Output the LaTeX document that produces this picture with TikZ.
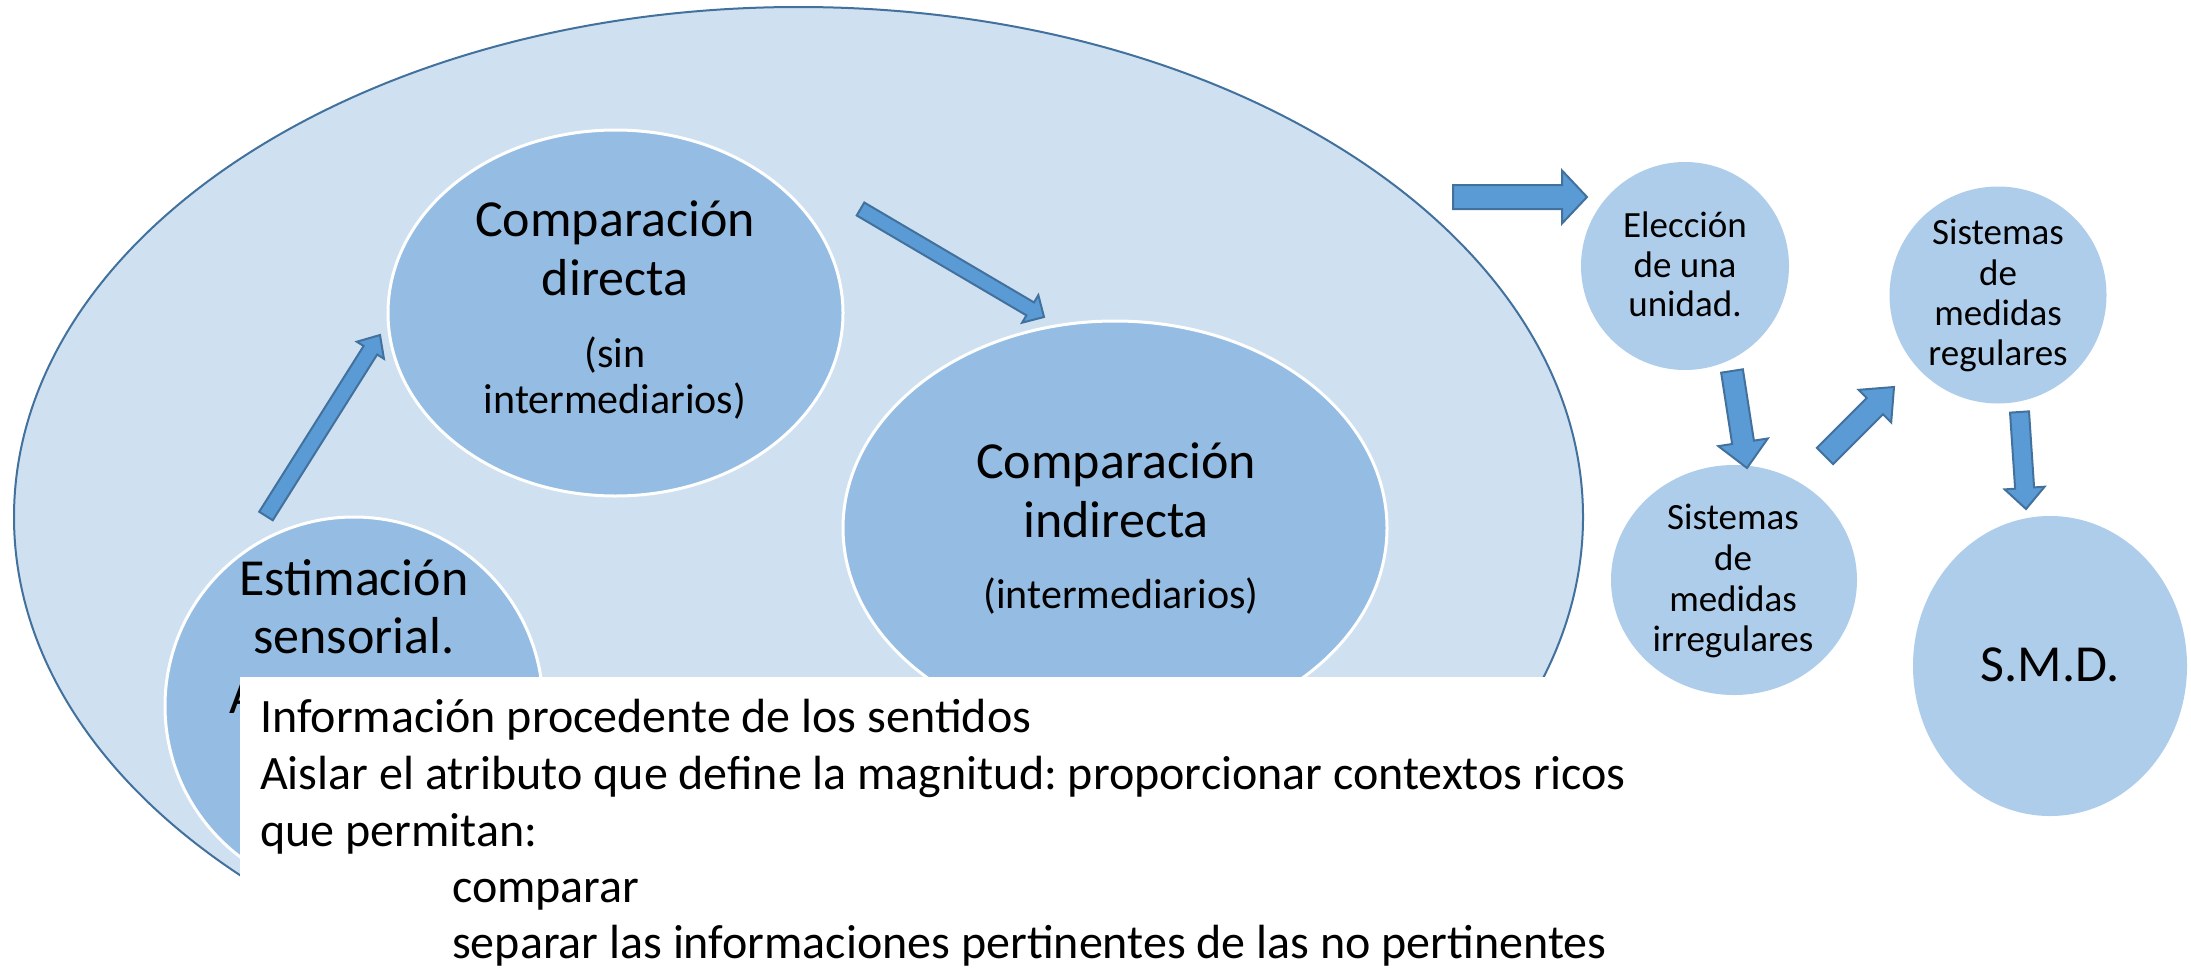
\documentclass[tikz,border=0pt]{standalone}
\usepackage{fontspec}
\setmainfont{Carlito}
\usetikzlibrary{shapes.geometric,calc}
\definecolor{outerfill}{RGB}{207,224,241}
\definecolor{outerline}{RGB}{65,113,156}
\definecolor{innerfill}{RGB}{149,189,227}
\definecolor{rightfill}{RGB}{174,205,235}
\definecolor{arrowfill}{RGB}{91,155,213}
\frenchspacing
\tikzset{
 outerell/.style={ellipse, fill=outerfill, draw=outerline, line width=2pt, inner sep=0pt},
 innerell/.style={ellipse, fill=innerfill, draw=white, line width=3pt, inner sep=0pt},
 rightell/.style={ellipse, fill=rightfill, inner sep=0pt},
 blockarr/.style={fill=arrowfill, draw=outerline, line width=2pt, line join=miter},
 lbl/.style={anchor=base, inner sep=0pt, text=black},
 bigf/.style={font=\fontsize{52}{59}\selectfont},
 midf/.style={font=\fontsize{42}{46}\selectfont},
 smallf/.style={font=\fontsize{37}{40}\selectfont},
 boxtxt/.style={anchor=base west, inner sep=0pt, text=black, font=\fontsize{48}{57}\selectfont},
}
\newcommand{\blockarw}[6]{%
 \coordinate (#1t) at #2;
 \coordinate (#1p) at #3;
 \coordinate (#1q) at ($(#1p)!#6!(#1t)$);
 \draw[blockarr] ($(#1t)!#4!90:(#1p)$) -- ($(#1q)!#4!90:(#1p)$) -- ($(#1q)!#5!90:(#1p)$) -- (#1p) -- ($(#1q)!#5!-90:(#1p)$) -- ($(#1q)!#4!-90:(#1p)$) -- ($(#1t)!#4!-90:(#1p)$) -- cycle;}
\begin{document}
\begin{tikzpicture}[x=1pt,y=-1pt]
\useasboundingbox (0,0) rectangle (2191,970);
\fill[white] (0,0) rectangle (2191,970);
% outer ellipse
\node[outerell, minimum width=1569pt, minimum height=1020pt] (outer) at (798.5,517) {};
% inner ellipses
\node[innerell, minimum width=455pt, minimum height=366pt] (direct) at (615.5,313) {};
\node[innerell, minimum width=544pt, minimum height=414pt] (indirect) at (1115,528) {};
\node[innerell, minimum width=378pt, minimum height=378pt] (estim) at (354,706) {};
% texts in inner ellipses
\node[lbl, bigf] (d1) at (615,236) {Comparación};
\node[lbl, bigf] (d2) at (615,295) {directa};
\node[lbl, midf] (d3) at (615,367) {(sin};
\node[lbl, midf] (d4) at (615,413) {intermediarios)};
\node[lbl, bigf] (i1) at (1116,478) {Comparación};
\node[lbl, bigf] (i2) at (1116,537) {indirecta};
\node[lbl, midf] (i3) at (1121,608) {(intermediarios)};
\node[lbl, bigf] (e1) at (354,595) {Estimación};
\node[lbl, bigf] (e2) at (354,653) {sensorial.};
\node[lbl, bigf] (e3) at (354,713) {Apreciación};
% inner arrows
\blockarw{aone}{(266,516)}{(380,335)}{8pt}{16pt}{18pt}
\blockarw{atwo}{(860.5,209)}{(1044,317)}{7.5pt}{16pt}{16pt}
% white text box
\node[fill=white, inner sep=0pt, minimum width=1390pt, minimum height=340pt, anchor=north west] (box) at (240,677) {};
\node[boxtxt] (b1) at (260,732) {Información procedente de los sentidos};
\node[boxtxt] (b2) at (260,789) {Aislar el atributo que define la magnitud: proporcionar contextos ricos};
\node[boxtxt] (b3) at (260,846) {que permitan:};
\node[boxtxt] (b4) at (452,902) {comparar};
\node[boxtxt] (b5) at (452,958) {separar las informaciones pertinentes de las no pertinentes};
% right circles
\node[rightell, minimum width=208pt, minimum height=208pt] (elec) at (1685,266) {};
\node[rightell, minimum width=246pt, minimum height=230pt] (irreg) at (1734,580) {};
\node[rightell, minimum width=217pt, minimum height=217pt] (reg) at (1998,295) {};
\node[rightell, minimum width=274pt, minimum height=300pt] (smd) at (2050,666) {};
\node[lbl, smallf] (el1) at (1685,237) {Elección};
\node[lbl, smallf] (el2) at (1685,277) {de una};
\node[lbl, smallf] (el3) at (1685,316.5) {unidad.};
\node[lbl, smallf] (ir1) at (1733,529.5) {Sistemas};
\node[lbl, smallf] (ir2) at (1733,570) {de};
\node[lbl, smallf] (ir3) at (1733,611) {medidas};
\node[lbl, smallf] (ir4) at (1733,651) {irregulares};
\node[lbl, smallf] (re1) at (1998,244) {Sistemas};
\node[lbl, smallf] (re2) at (1998,285) {de};
\node[lbl, smallf] (re3) at (1998,325) {medidas};
\node[lbl, smallf] (re4) at (1998,365) {regulares};
\node[lbl, bigf] (smdt) at (2050,681) {S.M.D.};
% right arrows
\blockarw{athree}{(1453,197)}{(1587,197)}{12pt}{26.5pt}{25pt}
\blockarw{afour}{(1732,371)}{(1747,468)}{11pt}{25pt}{26pt}
\blockarw{afive}{(1825,456)}{(1894,387)}{11.5pt}{23pt}{27pt}
\blockarw{asix}{(2019.5,412)}{(2026,509)}{9.5pt}{20pt}{21pt}
\end{tikzpicture}
\end{document}
